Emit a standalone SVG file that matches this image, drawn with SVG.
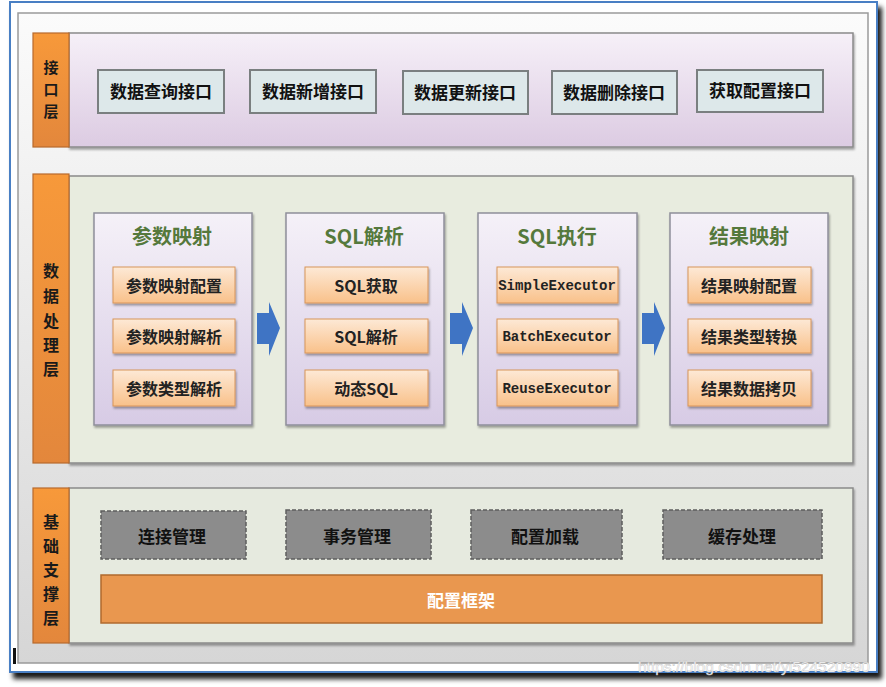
<svg xmlns="http://www.w3.org/2000/svg" width="886" height="687" viewBox="0 0 886 687">
<defs>
<linearGradient id="gOuter" x1="0" y1="0" x2="0" y2="1"><stop offset="0" stop-color="#fbfbfb"/><stop offset="1" stop-color="#d6d6d6"/></linearGradient>
<linearGradient id="gLav" x1="0" y1="0" x2="0" y2="1"><stop offset="0" stop-color="#f6f0f8"/><stop offset="1" stop-color="#dccbe2"/></linearGradient>
<linearGradient id="gGroup" x1="0" y1="0" x2="0" y2="1"><stop offset="0" stop-color="#f5f1f8"/><stop offset="1" stop-color="#d7cbe5"/></linearGradient>
<linearGradient id="gItem" x1="0" y1="0" x2="0" y2="1"><stop offset="0" stop-color="#fde9d6"/><stop offset="1" stop-color="#f9c18a"/></linearGradient>
<linearGradient id="gTab" x1="0" y1="0" x2="0" y2="1"><stop offset="0" stop-color="#f7993a"/><stop offset="1" stop-color="#e3873c"/></linearGradient>
<filter id="sh" x="-5%" y="-5%" width="110%" height="120%"><feDropShadow dx="1" dy="2" stdDeviation="1.2" flood-color="#000" flood-opacity="0.35"/></filter>
<filter id="big" x="-5%" y="-5%" width="110%" height="110%"><feDropShadow dx="4" dy="6" stdDeviation="2.5" flood-color="#000" flood-opacity="0.9"/></filter>
</defs>
<style>
.cn{font-family:"Noto Sans CJK SC","Liberation Sans",sans-serif;font-weight:bold;text-anchor:middle;dominant-baseline:central}
.tab{fill:url(#gTab);stroke:#b8692c;stroke-width:1.2}
.tabt{font-size:16px;fill:#1a1a1a}
.layer{stroke:#8a8a8a;stroke-width:1.5;filter:url(#sh)}
.ibtn{fill:#dde8ea;stroke:#7a7f80;stroke-width:2}
.ibt{font-size:17px;fill:#111}
.grp{fill:url(#gGroup);stroke:#8e8e9a;stroke-width:1.5;filter:url(#sh)}
.ttl{font-size:20px;fill:#55793c}
.item{fill:url(#gItem);stroke:#d8955a;stroke-width:1;filter:url(#sh)}
.it{font-size:16px;fill:#222}
.en{font-family:"Liberation Mono","DejaVu Sans Mono",monospace;font-weight:bold;font-size:14px;fill:#222;text-anchor:middle;dominant-baseline:central}
.gbox{fill:#8c8c8c;stroke:#5e5e5e;stroke-width:1.5;stroke-dasharray:4 2}
.gt{font-size:17px;fill:#111}
.arr{fill:#3f74c4}
</style>
<rect x="0" y="0" width="886" height="687" fill="#ffffff"/>
<!-- outer frame -->
<rect x="10" y="2" width="867" height="670" fill="#ffffff" stroke="#4a7fc4" stroke-width="2" filter="url(#big)"/>
<rect x="18" y="13" width="850" height="650" fill="url(#gOuter)" stroke="#9a9a9a" stroke-width="1.5"/>
<rect x="13" y="648" width="3" height="16" fill="#111"/>

<!-- Interface layer -->
<g id="layer-interface">
<rect class="layer" x="69" y="33" width="784" height="114" fill="url(#gLav)"/>
<rect class="tab" x="33" y="33" width="36" height="114"/>
<text class="cn tabt" x="51" y="66" font-size="15" style="font-size:15px">接</text>
<text class="cn tabt" x="51" y="88" style="font-size:15px">口</text>
<text class="cn tabt" x="51" y="110" style="font-size:15px">层</text>
</g>
<g id="node-query"><rect class="ibtn" x="98" y="70" width="126" height="43"/><text class="cn ibt" x="161" y="90">数据查询接口</text></g>
<g id="node-add"><rect class="ibtn" x="250" y="70" width="126" height="43"/><text class="cn ibt" x="313" y="90">数据新增接口</text></g>
<g id="node-update"><rect class="ibtn" x="403" y="71" width="125" height="43"/><text class="cn ibt" x="465" y="91">数据更新接口</text></g>
<g id="node-delete"><rect class="ibtn" x="552" y="71" width="125" height="43"/><text class="cn ibt" x="614" y="91">数据删除接口</text></g>
<g id="node-config"><rect class="ibtn" x="697" y="70" width="126" height="42"/><text class="cn ibt" x="760" y="89">获取配置接口</text></g>

<!-- Data processing layer -->
<g id="layer-processing">
<rect class="layer" x="69" y="176" width="784" height="287" fill="#e8ecdf"/>
<rect class="tab" x="33" y="174" width="36" height="289"/>
<text class="cn tabt" x="51" y="270">数</text>
<text class="cn tabt" x="51" y="295">据</text>
<text class="cn tabt" x="51" y="320">处</text>
<text class="cn tabt" x="51" y="344">理</text>
<text class="cn tabt" x="51" y="368">层</text>
</g>

<g id="group-param">
<rect class="grp" x="94" y="213" width="158" height="212"/>
<text class="cn ttl" x="172" y="235">参数映射</text>
<rect class="item" x="113" y="267" width="122" height="36"/><text class="cn it" x="174" y="285">参数映射配置</text>
<rect class="item" x="113" y="319" width="122" height="34"/><text class="cn it" x="174" y="336">参数映射解析</text>
<rect class="item" x="113" y="370" width="122" height="36"/><text class="cn it" x="174" y="388">参数类型解析</text>
</g>
<g id="group-sqlparse">
<rect class="grp" x="286" y="213" width="158" height="212"/>
<text class="cn ttl" x="364" y="235">SQL解析</text>
<rect class="item" x="305" y="267" width="123" height="36"/><text class="cn it" x="366" y="285">SQL获取</text>
<rect class="item" x="305" y="319" width="123" height="34"/><text class="cn it" x="366" y="336">SQL解析</text>
<rect class="item" x="305" y="370" width="123" height="36"/><text class="cn it" x="366" y="388">动态SQL</text>
</g>
<g id="group-sqlexec">
<rect class="grp" x="478" y="213" width="159" height="212"/>
<text class="cn ttl" x="557" y="235">SQL执行</text>
<rect class="item" x="497" y="267" width="121" height="36"/><text class="en" x="557" y="286">SimpleExecutor</text>
<rect class="item" x="497" y="319" width="121" height="34"/><text class="en" x="557" y="337">BatchExecutor</text>
<rect class="item" x="497" y="370" width="121" height="36"/><text class="en" x="557" y="389">ReuseExecutor</text>
</g>
<g id="group-result">
<rect class="grp" x="670" y="213" width="158" height="212"/>
<text class="cn ttl" x="749" y="235">结果映射</text>
<rect class="item" x="688" y="267" width="123" height="36"/><text class="cn it" x="749" y="285">结果映射配置</text>
<rect class="item" x="688" y="319" width="123" height="34"/><text class="cn it" x="749" y="336">结果类型转换</text>
<rect class="item" x="688" y="370" width="123" height="36"/><text class="cn it" x="749" y="388">结果数据拷贝</text>
</g>

<g id="connectors">
<path class="arr" d="M257,313 H269 V302 L280,328 L269,356 V344 H257 Z"/>
<path class="arr" d="M450,313 H462 V302 L473,328 L462,356 V344 H450 Z"/>
<path class="arr" d="M642,313 H654 V302 L665,328 L654,356 V344 H642 Z"/>
</g>

<!-- Foundation layer -->
<g id="layer-foundation">
<rect class="layer" x="69" y="488" width="784" height="155" fill="#e6eadf"/>
<rect class="tab" x="33" y="488" width="36" height="155"/>
<text class="cn tabt" x="51" y="521">基</text>
<text class="cn tabt" x="51" y="545">础</text>
<text class="cn tabt" x="51" y="569">支</text>
<text class="cn tabt" x="51" y="593">撑</text>
<text class="cn tabt" x="51" y="617">层</text>
</g>
<g id="node-conn"><rect class="gbox" x="101" y="511" width="145" height="48"/><text class="cn gt" x="172" y="535">连接管理</text></g>
<g id="node-tx"><rect class="gbox" x="286" y="510" width="145" height="49"/><text class="cn gt" x="357" y="535">事务管理</text></g>
<g id="node-load"><rect class="gbox" x="471" y="510" width="151" height="49"/><text class="cn gt" x="545" y="535">配置加载</text></g>
<g id="node-cache"><rect class="gbox" x="663" y="510" width="159" height="49"/><text class="cn gt" x="742" y="535">缓存处理</text></g>
<g id="node-framework"><rect x="101" y="575" width="721" height="48" fill="#e9974f" stroke="#b06a2e" stroke-width="1.5"/><text class="cn" x="461" y="599" font-size="17" fill="#ffffff">配置框架</text></g>

<text x="638" y="672" font-family="Liberation Sans, sans-serif" font-size="15.5" fill="#ffffff" stroke="#bbbbbb" stroke-width="0.4">https://blog.csdn.net/yi524520990</text>
</svg>
